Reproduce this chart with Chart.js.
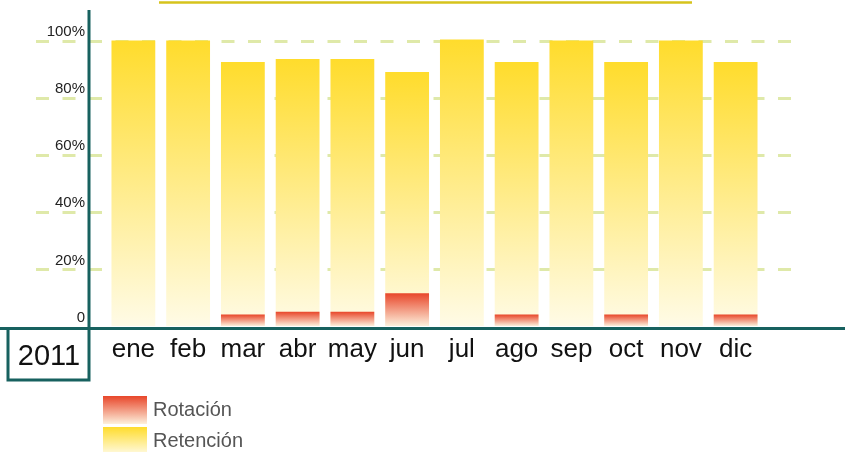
<!DOCTYPE html>
<html>
<head>
<meta charset="utf-8">
<script src="https://cdn.jsdelivr.net/npm/chart.js@4/dist/chart.umd.min.js"></script>
<style>
  html, body { margin:0; padding:0; background:#fff; }
  #wrap { position:relative; width:845px; height:452px; overflow:hidden; font-family:'Liberation Sans', Arial, sans-serif; }
  #legend { position:absolute; left:103px; top:394px; }
  .item { display:flex; align-items:center; height:31px; }
  .box { width:44px; height:28px; margin-right:6px; }
  .item span { font-size:20px; color:#555; }
</style>
</head>
<body>
<div id="wrap">
  <canvas id="chart" width="845" height="452"></canvas>
  <div id="legend"></div>
</div>
<script>
// months of 2011
const months = ['ene','feb','mar','abr','may','jun','jul','ago','sep','oct','nov','dic'];
const rotacion = [0, 0, 4, 5, 5, 11.5, 0, 4, 0, 4, 0, 4];
const retencion = [100, 100, 92.5, 93.5, 93.5, 89, 100.4, 92.5, 100, 92.5, 100, 92.5];
const yearLabel = '2011';
const tickStep = 20;

const TEAL = '#17615f';
const colors = {
  'Rotación': ['#e8462a', '#fdf0dc'],
  'Retención': ['#ffdc2c', '#fffbe6']
};

function grad(ctx, pair) {
  const chart = ctx.chart;
  if (!chart.chartArea) return pair[0];
  const y = chart.scales.y;
  const top = y.getPixelForValue(ctx.raw || 0);
  const bottom = y.getPixelForValue(0);
  if (bottom - top < 1) return pair[0];
  const g = chart.ctx.createLinearGradient(0, top, 0, bottom);
  g.addColorStop(0, pair[0]);
  g.addColorStop(1, pair[1]);
  return g;
}

// dashed grid, axes, year box, top rule
const decor = {
  id: 'decor',
  beforeDatasetsDraw(chart) {
    const c = chart.ctx, y = chart.scales.y;
    c.save();
    c.strokeStyle = '#dfe9a9';
    c.lineWidth = 3;
    c.setLineDash([13, 13.5]);
    y.ticks.forEach(t => {
      if (t.value === 0 || t.value % tickStep) return;
      const py = Math.round(y.getPixelForValue(t.value)) + 0.5;
      c.beginPath();
      c.moveTo(36, py);
      c.lineTo(796, py);
      c.stroke();
    });
    c.restore();
  },
  afterDraw(chart) {
    const c = chart.ctx;
    c.save();
    c.strokeStyle = TEAL;
    c.lineWidth = 3;
    // x axis
    c.beginPath(); c.moveTo(0, 328.5); c.lineTo(845, 328.5); c.stroke();
    // y axis + box
    c.beginPath(); c.moveTo(89, 10); c.lineTo(89, 380); c.lineTo(8, 380); c.lineTo(8, 328.5); c.stroke();
    c.fillStyle = '#111';
    c.font = '29px "Liberation Sans", Arial, sans-serif';
    c.textAlign = 'center';
    c.textBaseline = 'alphabetic';
    c.fillText(yearLabel, 49, 365);
    // top rule
    c.strokeStyle = '#d6c31c';
    c.lineWidth = 2.5;
    c.beginPath(); c.moveTo(159, 2.5); c.lineTo(692, 2.5); c.stroke();
    c.restore();
  }
};

function noPad(s) {
  s.paddingTop = 0; s.paddingBottom = 0; s.paddingLeft = 0; s.paddingRight = 0;
}

const datasets = [
  { label:'Rotación', data:rotacion, backgroundColor: ctx => grad(ctx, colors['Rotación']) },
  { label:'Retención', data:retencion, backgroundColor: ctx => grad(ctx, colors['Retención']) }
];

new Chart(document.getElementById('chart').getContext('2d'), {
  type:'bar',
  data:{ labels:months, datasets:datasets },
  options:{
    responsive:false,
    animation:false,
    layout:{ padding:{ left:0, right:82, top:12, bottom:0 } },
    datasets:{ bar:{ grouped:false, barPercentage:0.8, categoryPercentage:1, borderWidth:0 } },
    plugins:{ legend:{ display:false }, tooltip:{ enabled:false } },
    scales:{
      x:{
        grid:{ display:false, drawTicks:false },
        border:{ display:false },
        ticks:{ padding:8, maxRotation:0, minRotation:0, autoSkip:false, color:'#111', font:{ family:'"Liberation Sans", Arial, sans-serif', size:26 } },
        afterFit: s => { s.height = 126; noPad(s); }
      },
      y:{
        min:0, max:110,
        grid:{ display:false, drawTicks:false },
        border:{ display:false },
        ticks:{
          stepSize:tickStep, padding:21, labelOffset:-8.5, color:'#222',
          font:{ family:'"Liberation Sans", Arial, sans-serif', size:15 },
          callback: v => v === 0 ? '0' : (v % tickStep ? null : v + '%')
        },
        afterFit: s => { s.width = 106; noPad(s); }
      }
    }
  },
  plugins:[decor]
});

// legend built from the datasets
document.getElementById('legend').innerHTML = datasets.map(d => {
  const p = colors[d.label];
  return `<div class="item"><div class="box" style="background:linear-gradient(${p[0]}, ${p[1]})"></div><span>${d.label}</span></div>`;
}).join('');
</script>
</body>
</html>
